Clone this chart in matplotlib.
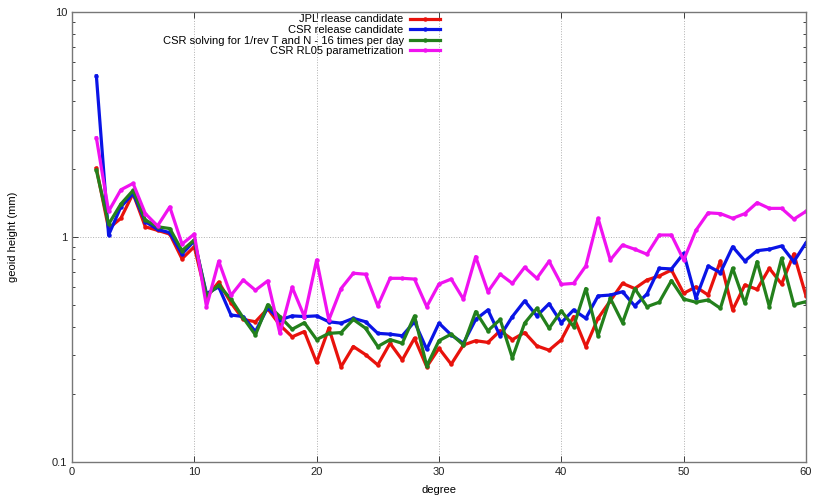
import matplotlib.pyplot as plt
import numpy as np
from matplotlib.ticker import FuncFormatter, LogLocator, NullFormatter

plt.rcParams['font.family'] = ['Liberation Sans', 'DejaVu Sans']

# spherical harmonic degree
degree = np.arange(2, 61)

jpl_rc = [2.02, 1.09, 1.21, 1.56, 1.11, 1.07, 1.03, 0.80, 0.905, 0.54,
          0.63, 0.51, 0.43, 0.42, 0.48, 0.406, 0.36, 0.38, 0.277, 0.393,
          0.265, 0.326, 0.30, 0.27, 0.337, 0.284, 0.355, 0.265, 0.32, 0.272,
          0.331, 0.346, 0.34, 0.383, 0.35, 0.376, 0.328, 0.314, 0.349, 0.443,
          0.326, 0.435, 0.52, 0.622, 0.59, 0.644, 0.671, 0.713, 0.562, 0.60,
          0.552, 0.782, 0.474, 0.612, 0.585, 0.726, 0.618, 0.84, 0.547]

csr_rc = [5.2, 1.02, 1.36, 1.56, 1.17, 1.08, 1.045, 0.84, 0.96, 0.56,
          0.60, 0.45, 0.443, 0.38, 0.485, 0.428, 0.446, 0.443, 0.446, 0.42,
          0.414, 0.435, 0.42, 0.373, 0.37, 0.364, 0.42, 0.317, 0.414, 0.367,
          0.337, 0.43, 0.474, 0.363, 0.443, 0.52, 0.446, 0.505, 0.416, 0.474,
          0.435, 0.547, 0.552, 0.571, 0.494, 0.558, 0.726, 0.721, 0.846, 0.534,
          0.743, 0.694, 0.905, 0.782, 0.869, 0.882, 0.912, 0.777, 0.943]

csr_1rev = [1.98, 1.14, 1.40, 1.61, 1.19, 1.11, 1.09, 0.87, 0.97, 0.55,
            0.61, 0.53, 0.437, 0.367, 0.50, 0.443, 0.389, 0.416, 0.35, 0.373,
            0.376, 0.43, 0.393, 0.326, 0.35, 0.337, 0.446, 0.267, 0.346, 0.37,
            0.331, 0.466, 0.383, 0.43, 0.29, 0.414, 0.482, 0.393, 0.469, 0.40,
            0.59, 0.364, 0.534, 0.416, 0.59, 0.49, 0.513, 0.64, 0.53, 0.513,
            0.525, 0.482, 0.726, 0.507, 0.777, 0.49, 0.804, 0.50, 0.516]

csr_rl05 = [2.76, 1.30, 1.62, 1.73, 1.27, 1.12, 1.36, 0.93, 1.03, 0.49,
            0.78, 0.55, 0.644, 0.58, 0.638, 0.373, 0.598, 0.443, 0.79, 0.428,
            0.59, 0.69, 0.683, 0.494, 0.655, 0.655, 0.65, 0.49, 0.618, 0.65,
            0.529, 0.818, 0.571, 0.683, 0.622, 0.733, 0.655, 0.78, 0.616, 0.622,
            0.743, 1.21, 0.79, 0.921, 0.882, 0.838, 1.02, 1.02, 0.79, 1.07,
            1.28, 1.27, 1.21, 1.27, 1.42, 1.34, 1.34, 1.20, 1.30]

labels = ['JPL rlease candidate', 'CSR release candidate',
          'CSR solving for 1/rev T and N - 16 times per day',
          'CSR RL05 parametrization']
colors = ['#e8120c', '#0a14e6', '#23801c', '#f012f0']

fig = plt.figure(figsize=(8.17, 4.96), dpi=100)
ax = fig.add_axes([0.088, 0.0685, 0.8986, 0.9075])

for series, label, color in zip([jpl_rc, csr_rc, csr_1rev, csr_rl05], labels, colors):
    ax.plot(degree, series, color=color, lw=2.3, marker='o', ms=2.2, label=label)

ax.set_yscale('log')
ax.set_xlim(0, 60)
ax.set_ylim(0.1, 10)
ax.set_xticks(np.arange(0, 61, 10))
ax.yaxis.set_major_locator(LogLocator(base=10, numticks=5))
ax.yaxis.set_minor_locator(LogLocator(base=10, subs=np.arange(2, 10), numticks=20))
ax.yaxis.set_major_formatter(FuncFormatter(lambda v, p: '%g' % v))
ax.yaxis.set_minor_formatter(NullFormatter())

ax.grid(True, which='major', ls=':', lw=0.7, color='#b0b0b0')
ax.tick_params(which='both', direction='in', top=True, right=True,
               labelsize=8, colors='#222222')
ax.tick_params(which='major', length=4, width=0.6)
ax.tick_params(which='minor', length=2.5, width=0.6)
for sp in ax.spines.values():
    sp.set_color('#777777')
    sp.set_linewidth(1.0)

ax.set_xlabel('degree', fontsize=8, labelpad=6)
ax.set_ylabel('geoid height (mm)', fontsize=8, labelpad=24)

ax.legend(loc='upper right', bbox_to_anchor=(0.514, 1.014), frameon=False,
          markerfirst=False, fontsize=8, handlelength=2.7, handletextpad=0.6,
          labelspacing=0.05, borderpad=0.3)

plt.savefig('out.png', dpi=100)
plt.close()
